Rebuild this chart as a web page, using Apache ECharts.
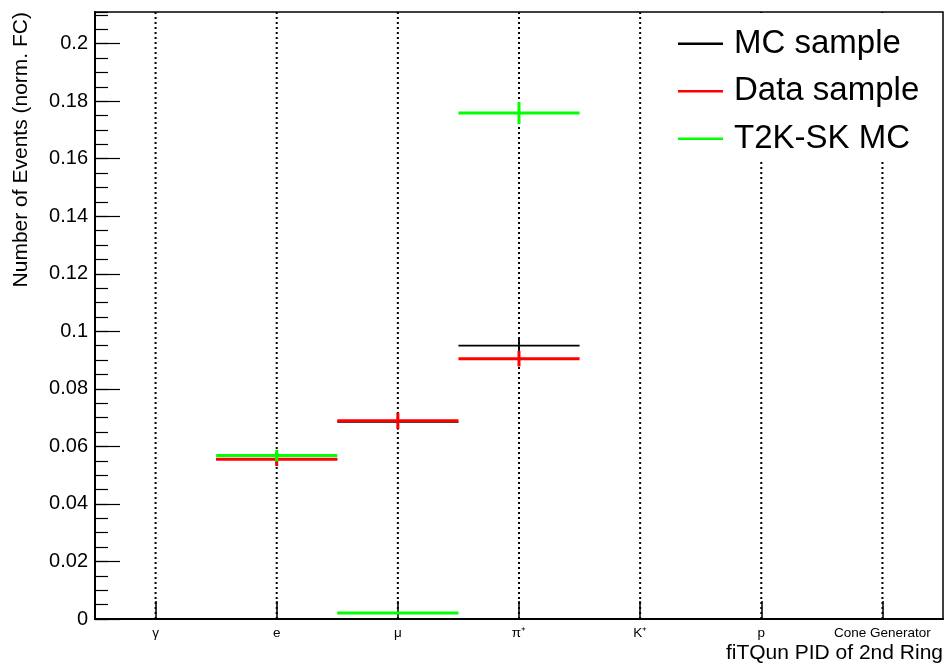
<!DOCTYPE html>
<html>
<head>
<meta charset="utf-8">
<script src="https://cdn.jsdelivr.net/npm/echarts@6/dist/echarts.min.js"></script>
<style>
html,body{margin:0;padding:0;background:#fff;}
#chart{width:947px;height:665px;}
</style>
</head>
<body>
<div id="chart"></div>
<script>
const categories = ['γ', 'e', 'μ', 'π⁺', 'K⁺', 'p', 'Cone Generator'];
const mcSample   = [0, 0.0556, 0.0685, 0.0950, 0, 0, 0];
const mcErr      = [0, 0.0024, 0.0027, 0.0027, 0, 0, 0];
const dataSample = [0, 0.0555, 0.0689, 0.0905, 0, 0, 0];
const dataErr    = [0, 0.0023, 0.0028, 0.0027, 0, 0, 0];
const t2kMC      = [0, 0.0568, 0.0021, 0.1759, 0, 0, 0];
const t2kErr     = [0, 0.0020, 0.0003, 0.0038, 0, 0, 0];
const yTicks     = [0, 0.02, 0.04, 0.06, 0.08, 0.1, 0.12, 0.14, 0.16, 0.18, 0.2];
const yMax = 0.211;

const FONT = '"Liberation Sans", Arial, Helvetica, sans-serif';

function toData(vals, errs) {
  return vals.map((v, i) => [i, v, errs[i]]);
}

function makeRender(color, width) {
  return function (params, api) {
    const i = api.value(0), v = api.value(1), e = api.value(2);
    if (!v) return;
    const c = api.coord([i, v]);
    const w = api.size([1, 0])[0];
    const top = api.coord([i, v + e]);
    const bot = api.coord([i, v - e]);
    return {
      type: 'group',
      children: [
        { type: 'line', shape: { x1: c[0] - w / 2, y1: c[1], x2: c[0] + w / 2, y2: c[1] },
          style: { stroke: color, lineWidth: width } },
        { type: 'line', shape: { x1: c[0], y1: top[1], x2: c[0], y2: bot[1] },
          style: { stroke: color, lineWidth: width } }
      ]
    };
  };
}

const chart = echarts.init(document.getElementById('chart'), null, { renderer: 'canvas' });

chart.setOption({
  animation: false,
  backgroundColor: '#fff',
  textStyle: { fontFamily: FONT },
  grid: {
    left: 95, right: 4, top: 12, bottom: 46,
    show: true, borderColor: '#000', borderWidth: 1.5, backgroundColor: 'transparent'
  },
  legend: {
    orient: 'vertical',
    left: 678, top: 20,
    padding: 0,
    itemGap: 0,
    itemWidth: 45, itemHeight: 2.5,
    selectedMode: false,
    z: 10,
    textStyle: { fontFamily: FONT, fontSize: 33, lineHeight: 47.5, color: '#000', padding: [0, 0, 0, 6] },
    data: [
      { name: 'MC sample', icon: 'rect', itemStyle: { color: '#000000' } },
      { name: 'Data sample', icon: 'rect', itemStyle: { color: '#ff0000' } },
      { name: 'T2K-SK MC', icon: 'rect', itemStyle: { color: '#00ff00' } }
    ]
  },
  xAxis: {
    type: 'category',
    data: categories,
    boundaryGap: true,
    axisLine: { show: true, lineStyle: { color: '#000', width: 2 } },
    axisTick: { show: true, alignWithLabel: true, inside: true, length: 18, lineStyle: { color: '#000', width: 1.5 } },
    axisLabel: { color: '#000', fontSize: 13.5, fontFamily: FONT, margin: 7, interval: 0 },
    splitLine: { show: false }
  },
  yAxis: [
    {
      type: 'value', min: 0, max: yMax, interval: 0.02,
      axisLine: { show: true, lineStyle: { color: '#000', width: 2 } },
      axisTick: { show: true, inside: true, length: 25, lineStyle: { color: '#000', width: 1.2 } },
      axisLabel: {
        color: '#000', fontSize: 20, fontFamily: FONT, margin: 7, showMaxLabel: false,
        formatter: function (v) {
          const m = yTicks.find(t => Math.abs(t - v) < 1e-9);
          return m === undefined ? '' : String(m);
        }
      },
      splitLine: { show: false }
    },
    {
      type: 'value', min: 0, max: yMax, interval: 0.005, position: 'left',
      axisLine: { show: false },
      axisTick: { show: true, inside: true, length: 13, lineStyle: { color: '#000', width: 1.2 } },
      axisLabel: { show: false },
      splitLine: { show: false }
    }
  ],
  graphic: [
    {
      type: 'rect', z: 5,
      shape: { x: 665, y: 13, width: 277, height: 148 },
      style: { fill: '#ffffff' }
    },
    {
      type: 'text', x: 943, y: 653,
      style: { text: 'fiTQun PID of 2nd Ring', font: '21px ' + FONT, fill: '#000', align: 'right', verticalAlign: 'middle' }
    },
    {
      type: 'text', x: 21, y: 12, rotation: Math.PI / 2,
      style: { text: 'Number of Events (norm. FC)', font: '21px ' + FONT, fill: '#000', align: 'right', verticalAlign: 'middle' }
    }
  ],
  series: [
    {
      type: 'custom', name: 'grid', silent: true, z: 1,
      data: categories.map((c, i) => [i, 0]),
      encode: { x: 0, y: 1 },
      renderItem: function (params, api) {
        const i = api.value(0);
        const cs = params.coordSys;
        const p = api.coord([i, 0]);
        return { type: 'line', shape: { x1: p[0], y1: cs.y, x2: p[0], y2: cs.y + cs.height },
          style: { stroke: '#000', lineWidth: 2, lineDash: [2, 3] } };
      }
    },
    {
      type: 'custom', name: 'MC sample', z: 3,
      itemStyle: { color: '#000000' },
      data: toData(mcSample, mcErr), encode: { x: 0, y: 1 },
      renderItem: makeRender('#000000', 1.8)
    },
    {
      type: 'custom', name: 'Data sample', z: 4,
      itemStyle: { color: '#ff0000' },
      data: toData(dataSample, dataErr), encode: { x: 0, y: 1 },
      renderItem: makeRender('#ff0000', 3)
    },
    {
      type: 'custom', name: 'T2K-SK MC', z: 5,
      itemStyle: { color: '#00ff00' },
      data: toData(t2kMC, t2kErr), encode: { x: 0, y: 1 },
      renderItem: makeRender('#00ff00', 3)
    }
  ]
});
</script>
</body>
</html>
